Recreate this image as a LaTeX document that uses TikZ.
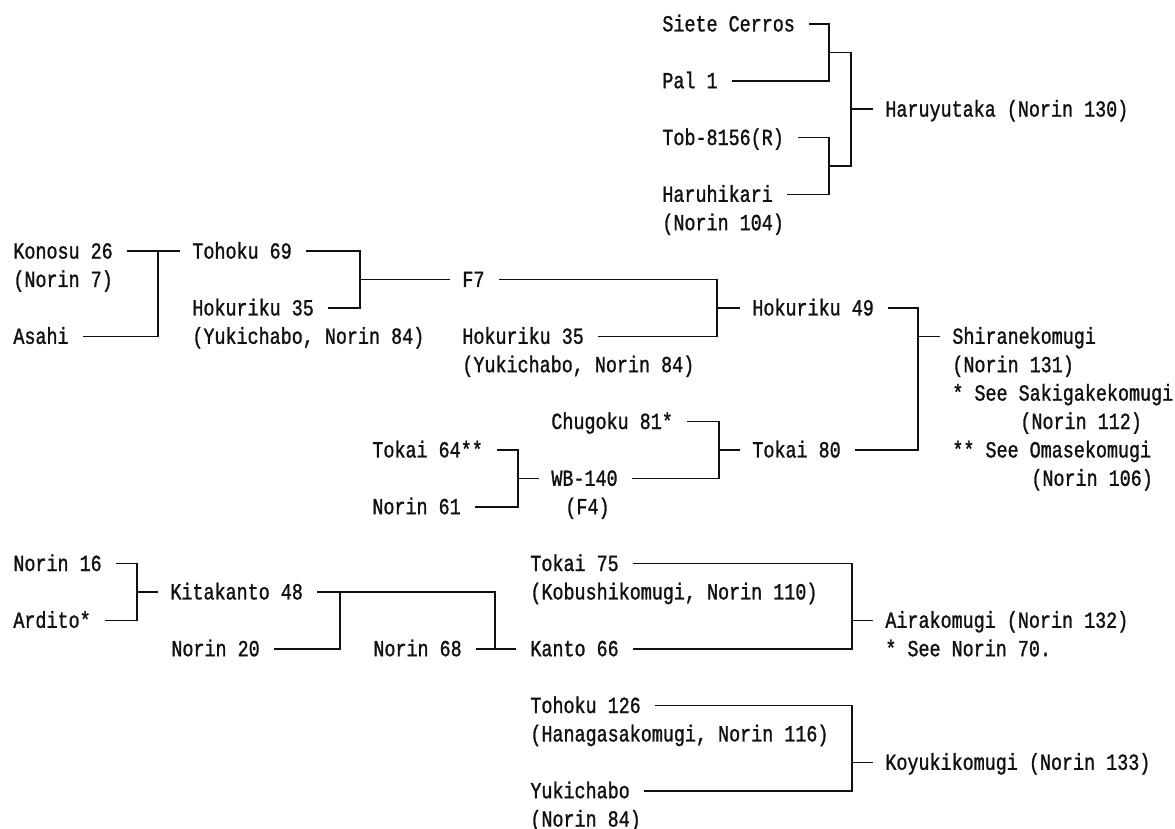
\documentclass[tikz,border=0pt]{standalone}
\usepackage{fontspec}
\newfontfamily\pedfont[FakeStretch=0.8,FakeBold=1.2]{Liberation Mono}
\definecolor{pedink}{RGB}{17,17,17}
\tikzset{
  pedline/.style={draw=pedink,line width=0.8pt},
  bracket/.style={pedline,shorten <=7pt,shorten >=7pt},
  stub/.style={pedline,shorten >=6pt},
  cultivar/.style={anchor=west,inner sep=0pt,text=pedink,
    font=\pedfont\fontsize{11.5pt}{14pt}\selectfont,text height=7.4pt,text depth=0pt}
}

\begin{document}
\begin{tikzpicture}[x=0.5pt,y=-14.2pt]
  % Pedigree charts: one row per text line, brackets join the two parents.
  \fill[white] (0,-0.845) rectangle (1175,28.345);
  \useasboundingbox (0,-0.845) rectangle (1175,28.345);

  \coordinate (xa) at (829,0);
  \coordinate (xb) at (851,0);
  \coordinate (xc) at (158,0);
  \coordinate (xd) at (360,0);
  \coordinate (xe) at (717,0);
  \coordinate (xf) at (918,0);
  \coordinate (xg) at (719,0);
  \coordinate (xh) at (518,0);
  \coordinate (xi) at (137,0);
  \coordinate (xj) at (340,0);
  \coordinate (xk) at (495,0);
  \coordinate (xl) at (852,0);

  \node[cultivar] (siete) at (662,0) {Siete Cerros};
  \node[cultivar] (pal) at (662,2) {Pal 1};
  \node[cultivar] (tob) at (662,4) {Tob-8156(R)};
  \node[cultivar] (haruhikari) at (662,6) {Haruhikari};
  \node[cultivar] (haruhikari-n) at (662,7) {(Norin 104)};
  \node[cultivar] (haruyutaka) at (885,3) {Haruyutaka (Norin 130)};

  \draw[bracket] (siete.east) -| (pal.east -| xa) -- (pal.east);
  \draw[bracket] (tob.east) -| (haruhikari.east -| xa) -- (haruhikari.east);
  \coordinate (ja) at (829,1);
  \coordinate (jb) at (829,5);
  \draw[pedline] (ja) -| (jb -| xb) -- (jb);
  \draw[stub] (haruyutaka.west -| xb) -- (haruyutaka.west);

  \node[cultivar] (konosu) at (13,8) {Konosu 26};
  \node[cultivar] (konosu-n) at (13,9) {(Norin 7)};
  \node[cultivar] (asahi) at (13,11) {Asahi};
  \node[cultivar] (tohoku69) at (192,8) {Tohoku 69};
  \node[cultivar] (hoku35) at (192,10) {Hokuriku 35};
  \node[cultivar] (hoku35-n) at (192,11) {(Yukichabo, Norin 84)};
  \node[cultivar] (f7) at (462,9) {F7};
  \node[cultivar] (hoku35b) at (462,11) {Hokuriku 35};
  \node[cultivar] (hoku35b-n) at (462,12) {(Yukichabo, Norin 84)};
  \node[cultivar] (hoku49) at (752,10) {Hokuriku 49};
  \node[cultivar] (shirane) at (952,11) {Shiranekomugi};
  \node[cultivar] (shirane-n) at (952,12) {(Norin 131)};
  \node[cultivar] (foot1) at (952,13) {* See Sakigakekomugi};
  \node[cultivar] (foot1-n) at (1020,14) {(Norin 112)};
  \node[cultivar] (foot2) at (952,15) {** See Omasekomugi};
  \node[cultivar] (foot2-n) at (1031,16) {(Norin 106)};

  \node[cultivar] (chugoku) at (551,14) {Chugoku 81*};
  \node[cultivar] (tokai64) at (372,15) {Tokai 64**};
  \node[cultivar] (norin61) at (372,17) {Norin 61};
  \node[cultivar] (wb140) at (551,16) {WB-140};
  \node[cultivar] (wb140-n) at (565,17) {(F4)};
  \node[cultivar] (tokai80) at (752,15) {Tokai 80};

  \draw[bracket] (konosu.east) -| (asahi.east -| xc) -- (asahi.east);
  \draw[stub] (tohoku69.west -| xc) -- (tohoku69.west);
  \draw[bracket] (tohoku69.east) -| (hoku35.east -| xd) -- (hoku35.east);
  \draw[stub] (f7.west -| xd) -- (f7.west);
  \draw[bracket] (f7.east) -| (hoku35b.east -| xe) -- (hoku35b.east);
  \draw[stub] (hoku49.west -| xe) -- (hoku49.west);
  \draw[bracket] (tokai64.east) -| (norin61.east -| xh) -- (norin61.east);
  \draw[stub] (wb140.west -| xh) -- (wb140.west);
  \draw[bracket] (chugoku.east) -| (wb140.east -| xg) -- (wb140.east);
  \draw[stub] (tokai80.west -| xg) -- (tokai80.west);
  \draw[bracket] (hoku49.east) -| (tokai80.east -| xf) -- (tokai80.east);
  \draw[stub] (shirane.west -| xf) -- (shirane.west);

  \node[cultivar] (norin16) at (13,19) {Norin 16};
  \node[cultivar] (ardito) at (13,21) {Ardito*};
  \node[cultivar] (kitakanto) at (170,20) {Kitakanto 48};
  \node[cultivar] (norin20) at (171,22) {Norin 20};
  \node[cultivar] (norin68) at (373,22) {Norin 68};
  \node[cultivar] (kanto66) at (530,22) {Kanto 66};
  \node[cultivar] (tokai75) at (530,19) {Tokai 75};
  \node[cultivar] (tokai75-n) at (530,20) {(Kobushikomugi, Norin 110)};
  \node[cultivar] (aira) at (885,21) {Airakomugi (Norin 132)};
  \node[cultivar] (aira-n) at (885,22) {* See Norin 70.};
  \node[cultivar] (tohoku126) at (530,24) {Tohoku 126};
  \node[cultivar] (tohoku126-n) at (530,25) {(Hanagasakomugi, Norin 116)};
  \node[cultivar] (yukichabo) at (530,27) {Yukichabo};
  \node[cultivar] (yukichabo-n) at (530,28) {(Norin 84)};
  \node[cultivar] (koyuki) at (885,26) {Koyukikomugi (Norin 133)};

  \draw[bracket] (norin16.east) -| (ardito.east -| xi) -- (ardito.east);
  \draw[stub] (kitakanto.west -| xi) -- (kitakanto.west);
  \draw[pedline,shorten <=7pt] (kitakanto.east) -| (kanto66.west -| xk);
  \draw[pedline,shorten <=7pt] (norin20.east) -| (kitakanto.east -| xj);
  \draw[bracket] (norin68.east) -- (kanto66.west);
  \draw[bracket] (tokai75.east) -| (kanto66.east -| xl) -- (kanto66.east);
  \draw[stub] (aira.west -| xl) -- (aira.west);
  \draw[bracket] (tohoku126.east) -| (yukichabo.east -| xl) -- (yukichabo.east);
  \draw[stub] (koyuki.west -| xl) -- (koyuki.west);
\end{tikzpicture}
\end{document}
